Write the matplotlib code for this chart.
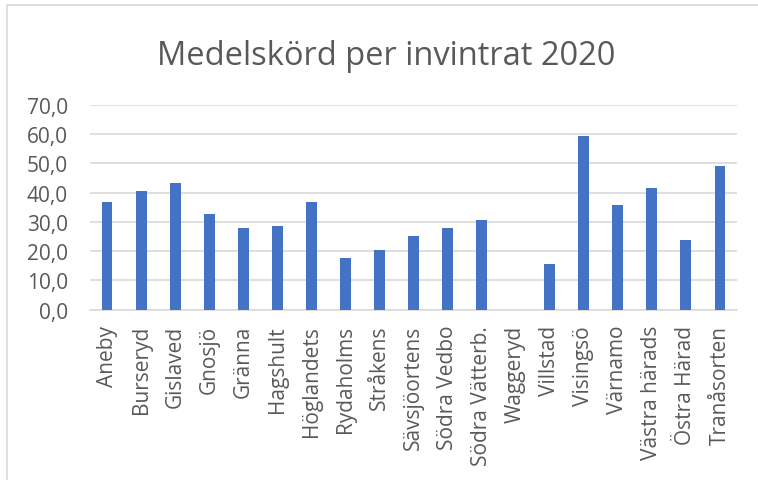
import matplotlib
matplotlib.use("Agg")
import matplotlib.pyplot as plt
from matplotlib.lines import Line2D

categories = ["Aneby", "Burseryd", "Gislaved", "Gnosjö", "Gränna", "Hagshult",
              "Höglandets", "Rydaholms", "Stråkens", "Sävsjöortens", "Södra Vedbo",
              "Södra Vätterb.", "Waggeryd", "Villstad", "Visingsö", "Värnamo",
              "Västra härads", "Östra Härad", "Tranåsorten"]
values = [36.7, 40.6, 43.2, 32.8, 28.0, 28.7, 36.7, 17.5, 20.5, 25.2, 27.8,
          30.5, 0.0, 15.5, 59.2, 35.7, 41.6, 23.8, 48.9]
yticks = [0, 10, 20, 30, 40, 50, 60, 70]
ytick_labels = ["0,0", "10,0", "20,0", "30,0", "40,0", "50,0", "60,0", "70,0"]
title = "Medelskörd per invintrat 2020"

plt.rcParams['font.family'] = ['Open Sans', 'DejaVu Sans']
W, H = 758, 481
fig = plt.figure(figsize=(W/100, H/100), dpi=100)
ax = fig.add_axes([90/W, 1-310.7/H, (737-90)/W, (310.7-105.7)/H])

x = range(len(categories))
ax.bar(x, values, width=0.32, color="#4472C4", zorder=3)
ax.set_xlim(-0.5, len(categories)-0.5)
ax.set_ylim(0, 70)
ax.set_yticks(yticks)
ax.set_yticklabels(ytick_labels, color="#595959", fontsize=15)
ax.set_xticks(list(x))
ax.set_xticklabels(categories, rotation=90, color="#595959", fontsize=15)
ax.tick_params(axis='both', length=0)
ax.tick_params(axis='y', pad=16)
ax.tick_params(axis='x', pad=11)
ax.grid(axis='y', color="#d9d9d9", linewidth=1.2, zorder=0)
for s in ["top", "right", "left"]:
    ax.spines[s].set_visible(False)
ax.spines["bottom"].set_color("#d9d9d9")
ax.spines["bottom"].set_linewidth(1.2)

fig.text(386/W, 1-65/H, title, ha="center", va="baseline", fontsize=23.5, color="#595959")

# chart border
fig.add_artist(Line2D([7/W, 7/W], [0, 1-6/H], color="#d9d9d9", linewidth=1.2, transform=fig.transFigure))
fig.add_artist(Line2D([7/W, 1], [1-6/H, 1-6/H], color="#d9d9d9", linewidth=1.2, transform=fig.transFigure))

fig.savefig("out.png", dpi=100)
